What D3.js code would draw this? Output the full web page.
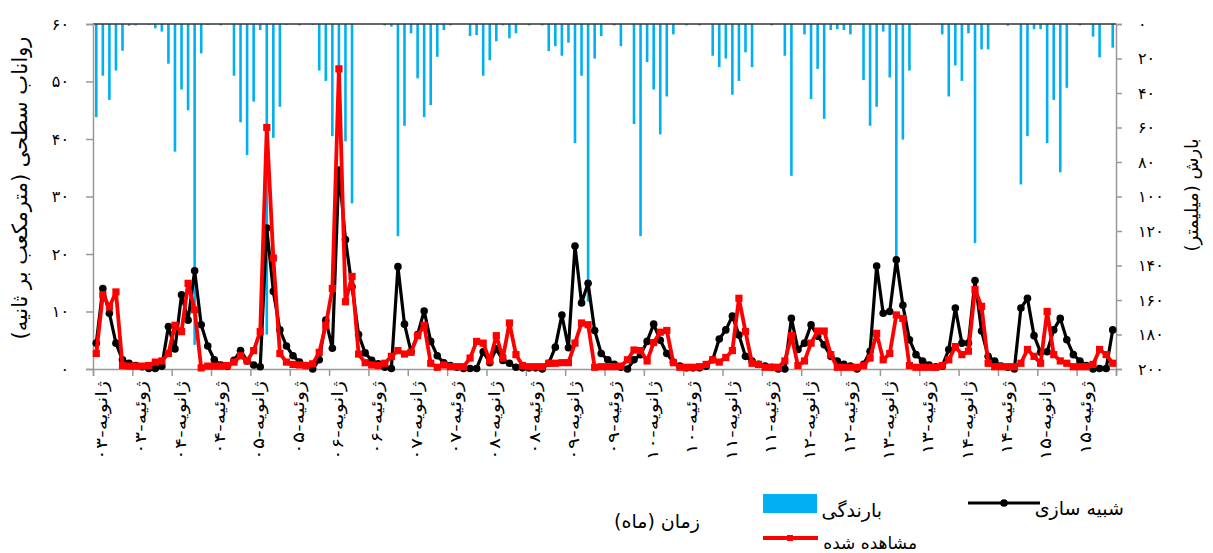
<!DOCTYPE html>
<html>
<head>
<meta charset="utf-8">
<script src="https://cdn.jsdelivr.net/npm/d3@7"></script>
<style>
  html,body{margin:0;padding:0;background:#fff;}
  svg text{font-family:"DejaVu Sans","Noto Sans",sans-serif;fill:#000;}
</style>
</head>
<body>
<svg id="chart" width="1213" height="553"></svg>
<script>
// ---------- DATA (monthly, Jan 2003 .. Dec 2015) ----------
const precipitation = [
 54,30,44,27,15.5,1,0.8,0,0.5,2.5,4.4,23,
 74,38,50,186,17,0.5,0,0.8,0,30,57,76,
 45,3.5,180,66,48,0.5,0,0.8,0,0.5,27,33,
 65,45,68,104,0,0,0,0,0.8,1.5,123,59,
 5.4,31.5,54,47,19,3.5,0.8,0,0,7,6.4,30,
 21,10,0.8,8.3,5.4,0,0.8,0,0.8,15.7,12.8,18.4,
 10.8,69,30,161,20,7,0,0.8,12.8,0,58,123,
 22,38,64,42,6,0,0.8,0,0.8,0,18.4,25,
 20,41,33,16.4,25,0,0,0.8,0,18.4,88,0,
 6,43.5,26,55,3.5,3,3.5,6,0,32.5,59,48,
 4.4,31,135,67,27,0.5,0,0,0,6,42,24,
 33,5.4,127,14.7,14.7,0,0,1,0,93,65,3,
 3,69,44,86,37,0,0.8,0,7.3,19.3,0,13.7
];
const simulated = [
 4.5,14,9.7,4.5,1.6,1.0,0.6,0.4,0.1,0.1,0.5,7.4,
 3.5,12.9,8.5,17.1,7.7,4,1.6,0.7,0.5,1.5,3.2,1.4,
 0.7,0.4,24.5,13.5,6.8,4,2.3,1.2,0.6,0,1.6,8.5,
 3.6,34.6,22.5,14.3,6,2.8,1.5,0.9,0.3,0.1,17.8,7.8,
 3,6,10.1,4.8,2.3,1.1,0.6,0.3,0.1,0.1,0.1,3,
 1.1,3.5,1.5,1,0.3,0.2,0.2,0.2,0,1,3.8,9.4,
 3.7,21.4,11.5,14.9,6.7,2.7,1.6,0.8,0.3,0,1.6,2.5,
 4.8,7.8,5,2.7,1.2,0.5,0.2,0.2,0.2,0.5,1.6,5.2,
 6.8,9.2,5.9,2.2,1.4,0.8,0.5,0.3,0,0,8.8,3.4,
 4.5,7.7,5.7,4.2,2.2,1.4,0.8,0.5,0,0.8,3.1,17.9,
 9.7,10,19,11.1,5.1,2.5,1.4,0.7,0.4,0.5,3.4,10.6,
 4.5,4.5,15.4,6.6,2.2,1.4,0.5,0.3,0,10.6,12.3,5.8,
 2.9,3,6.8,8.8,5.1,2.5,1.4,0.6,0,0.1,0.1,6.8
];
const observed = [
 2.7,12.9,10.8,13.4,0.6,0.5,0.5,0.5,0.6,1.2,1.4,2.7,
 7.6,6.5,14.9,10.3,0.2,0.5,0.5,0.5,0.6,1.2,2.3,1.4,
 3.2,6.5,42,19.3,2.7,1.2,0.8,0.7,0.6,0.9,2.9,7.6,
 14,52.2,11.7,16.1,2.6,1.1,0.7,0.6,1,2.2,3.2,2.6,
 2.9,5.8,7.6,1.0,0.3,0.7,0.4,0.4,0.4,1.9,4.8,4.5,
 1.4,5.8,1.9,8.0,2.5,0.6,0.4,0.4,0.4,1.0,1.0,1.1,
 1.1,4.5,8.0,7.7,0.3,0.4,0.4,0.4,0.5,1.6,3.3,3.2,
 1.4,4.6,6.4,6.7,1.1,0.3,0.3,0.3,0.4,0.8,1.6,1.2,
 2.0,3.2,12.3,6.5,1,0.8,0.3,0.3,0.3,1.4,5.8,0.6,
 1.4,4.5,6.6,6.6,2.5,0.3,0.3,0.3,0.3,0.6,1.9,6.2,
 1.6,2.7,9.4,8.8,0.6,0.3,0.3,0.3,0.3,0.6,1.6,3.9,
 2.5,3.1,13.8,10.9,1.0,0.4,0.4,0.4,0.4,1,3.4,2.2,
 1,10,2.5,1.4,1,0.4,0.4,0.4,0.8,3.4,2.5,1
];
const xTickLabels = [
 "ژانویه-۰۳","ژوئیه-۰۳","ژانویه-۰۴","ژوئیه-۰۴","ژانویه-۰۵","ژوئیه-۰۵",
 "ژانویه-۰۶","ژوئیه-۰۶","ژانویه-۰۷","ژوئیه-۰۷","ژانویه-۰۸","ژوئیه-۰۸",
 "ژانویه-۰۹","ژوئیه-۰۹","ژانویه-۱۰","ژوئیه-۱۰","ژانویه-۱۱","ژوئیه-۱۱",
 "ژانویه-۱۲","ژوئیه-۱۲","ژانویه-۱۳","ژوئیه-۱۳","ژانویه-۱۴","ژوئیه-۱۴",
 "ژانویه-۱۵","ژوئیه-۱۵"
];
const leftTicks = [0,10,20,30,40,50,60];
const leftTickLabels = ["۰","۱۰","۲۰","۳۰","۴۰","۵۰","۶۰"];
const rightTicks = [0,20,40,60,80,100,120,140,160,180,200];
const rightTickLabels = ["۰","۲۰","۴۰","۶۰","۸۰","۱۰۰","۱۲۰","۱۴۰","۱۶۰","۱۸۰","۲۰۰"];
const labelEvery = 6;

// ---------- CHART ----------
const svg = d3.select("#chart");
const L = 93, R = 1116, T = 24, B = 369;
const n = simulated.length;
const months = d3.range(n);

const x = d3.scaleBand().domain(months).range([L, R]).padding(0);
const xLin = d3.scaleLinear().domain([0, n]).range([L, R]);
const cx = i => x(i) + x.bandwidth() / 2;
const yL = d3.scaleLinear().domain([0, 60]).range([B, T]);
const yR = d3.scaleLinear().domain([0, 200]).range([T, B]);

// precipitation bars hanging from top
svg.append("g").selectAll("rect").data(precipitation).join("rect")
  .attr("x", (d, i) => cx(i) - 1.3)
  .attr("width", 2.6)
  .attr("y", yR(0))
  .attr("height", d => yR(d) - yR(0))
  .attr("fill", "#00B0F0");

// top line
svg.append("line").attr("x1", L).attr("x2", R).attr("y1", T).attr("y2", T)
  .attr("stroke", "#333").attr("stroke-width", 1.5);

// axes
const axisColor = "#999";
const gL = svg.append("g").attr("transform", `translate(${L},0)`)
  .call(d3.axisLeft(yL).tickValues(leftTicks).tickSize(7).tickPadding(17)
    .tickFormat((d, i) => leftTickLabels[i]));
const gR = svg.append("g").attr("transform", `translate(${R},0)`)
  .call(d3.axisRight(yR).tickValues(rightTicks).tickSize(6).tickPadding(16)
    .tickFormat((d, i) => rightTickLabels[i]));
const gX = svg.append("g").attr("transform", `translate(0,${B})`)
  .call(d3.axisBottom(xLin).tickValues(d3.range(0, n + 1, labelEvery)).tickSize(7)
    .tickFormat(""));
[gL, gR, gX].forEach(g => {
  g.select(".domain").attr("stroke", axisColor).attr("stroke-width", 1.5);
  g.selectAll(".tick line").attr("stroke", axisColor).attr("stroke-width", 1.5);
  g.selectAll(".tick text").attr("font-size", 16).attr("fill", "#000")
    .style("font-family", '"DejaVu Sans",sans-serif');
});
gL.selectAll(".tick text").attr("text-anchor", "end");
gR.selectAll(".tick text").attr("text-anchor", "start");

// x labels (rotated, stretched along reading direction)
svg.append("g").selectAll("text").data(xTickLabels).join("text")
  .attr("transform", (d, i) => `translate(${xLin(i * labelEvery) + 14},${B + 12}) rotate(-90) scale(1.3,1)`)
  .attr("text-anchor", "end")
  .attr("font-size", 16)
  .text(d => d);

// lines
const lineS = d3.line().x((d, i) => cx(i)).y(d => yL(d));
svg.append("path").datum(simulated).attr("d", lineS)
  .attr("fill", "none").attr("stroke", "#000").attr("stroke-width", 3.2).attr("stroke-linejoin", "round");
svg.append("g").selectAll("circle").data(simulated).join("circle")
  .attr("cx", (d, i) => cx(i)).attr("cy", d => yL(d)).attr("r", 3.8).attr("fill", "#000");

svg.append("path").datum(observed).attr("d", lineS)
  .attr("fill", "none").attr("stroke", "#FF0000").attr("stroke-width", 3.8).attr("stroke-linejoin", "round");
svg.append("g").selectAll("rect").data(observed).join("rect")
  .attr("x", (d, i) => cx(i) - 3.6).attr("y", d => yL(d) - 3.6)
  .attr("width", 7.2).attr("height", 7.2).attr("fill", "#FF0000");

// axis titles
svg.append("text").attr("transform", "translate(27,188) rotate(-90)")
  .attr("text-anchor", "middle").attr("font-size", 21)
  .text("رواناب سطحی (مترمکعب بر ثانیه)");
svg.append("text").attr("transform", "translate(1198,195) rotate(-90)")
  .attr("text-anchor", "middle").attr("font-size", 18)
  .text("بارش (میلیمتر)");
svg.append("text").attr("x", 657).attr("y", 528)
  .attr("text-anchor", "middle").attr("font-size", 19)
  .text("زمان (ماه)");

// legend
const lg = svg.append("g");
lg.append("rect").attr("x", 763).attr("y", 494).attr("width", 54).attr("height", 19).attr("fill", "#00B0F0");
lg.append("text").attr("x", 882).attr("y", 517).attr("text-anchor", "end").attr("font-size", 19).text("بارندگی");

lg.append("line").attr("x1", 968).attr("x2", 1040).attr("y1", 503).attr("y2", 503)
  .attr("stroke", "#000").attr("stroke-width", 3.2);
lg.append("circle").attr("cx", 1004).attr("cy", 503).attr("r", 3.8).attr("fill", "#000");
lg.append("text").attr("x", 1124).attr("y", 515).attr("text-anchor", "end").attr("font-size", 19).text("شبیه سازی");

lg.append("line").attr("x1", 763).attr("x2", 818).attr("y1", 538).attr("y2", 538)
  .attr("stroke", "#FF0000").attr("stroke-width", 3.8);
lg.append("rect").attr("x", 787).attr("y", 535).attr("width", 6).attr("height", 6).attr("fill", "#FF0000");
lg.append("text").attr("x", 917).attr("y", 549).attr("text-anchor", "end").attr("font-size", 17).text("مشاهده شده");
</script>
</body>
</html>
